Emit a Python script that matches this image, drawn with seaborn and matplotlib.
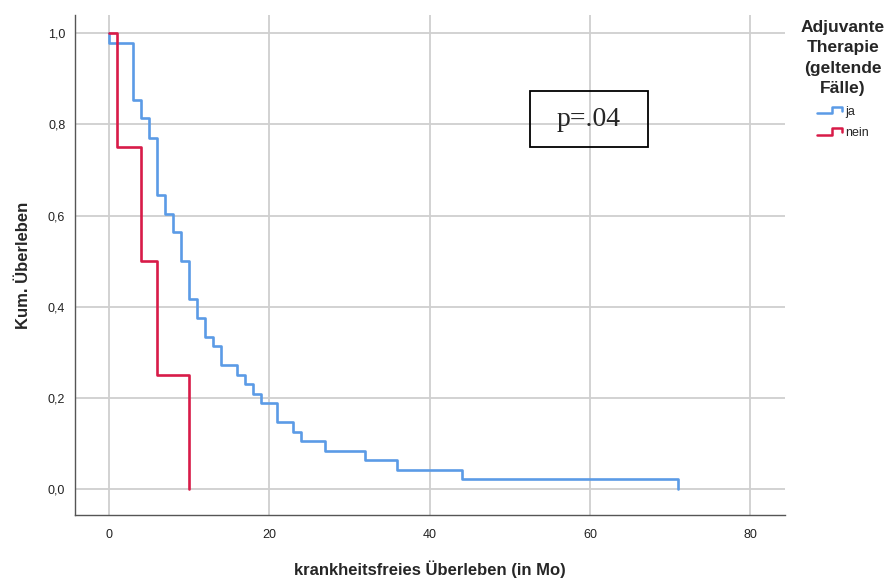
import matplotlib
matplotlib.use("Agg")
import matplotlib.pyplot as plt
import matplotlib.patches as mpatches
from matplotlib.lines import Line2D
from matplotlib.legend_handler import HandlerBase
import seaborn as sns
import pandas as pd

# Kaplan-Meier Schritte
ja_zeit = [0, 0, 3, 4, 5, 6, 7, 8, 9, 10, 11, 12, 13, 14, 16, 17, 18, 19,
           21, 23, 24, 27, 32, 36, 44, 71]
ja_surv = [1.0, 0.979, 0.854, 0.813, 0.771, 0.646, 0.604, 0.563, 0.5, 0.417,
           0.375, 0.333, 0.313, 0.271, 0.25, 0.229, 0.208, 0.188, 0.146,
           0.125, 0.104, 0.083, 0.063, 0.042, 0.021, 0.0]
nein_zeit = [0, 1, 4, 6, 10]
nein_surv = [1.0, 0.75, 0.5, 0.25, 0.0]

gruppen = ["ja", "nein"]
farben = ["#5b9be6", "#d81b48"]

x_ticks = [0, 20, 40, 60, 80]
y_ticks = [0.0, 0.2, 0.4, 0.6, 0.8, 1.0]
y_labels = ["0,0", "0,2", "0,4", "0,6", "0,8", "1,0"]

df = pd.concat([
    pd.DataFrame({"zeit": ja_zeit, "surv": ja_surv, "gruppe": "ja"}),
    pd.DataFrame({"zeit": nein_zeit, "surv": nein_surv, "gruppe": "nein"}),
], ignore_index=True)

sns.set_style("white")
plt.rcParams["font.family"] = ["Liberation Sans", "DejaVu Sans"]

fig = plt.figure(figsize=(8.93, 5.81), dpi=100)
ax = fig.add_axes([0.084, 0.114, 0.795, 0.86])

sns.lineplot(data=df, x="zeit", y="surv", hue="gruppe", hue_order=gruppen,
             palette=farben, drawstyle="steps-post", estimator=None,
             sort=False, linewidth=1.9, legend=False, ax=ax)

ax.set_xlim(-4.2, 84.3)
ax.set_ylim(-0.057, 1.04)
ax.set_xticks(x_ticks)
ax.set_yticks(y_ticks)
ax.set_yticklabels(y_labels)
ax.grid(True, color="#cfcfcf", linewidth=1.3)
ax.set_axisbelow(True)
for s in ["top", "right"]:
    ax.spines[s].set_visible(False)
for s in ["left", "bottom"]:
    ax.spines[s].set_color("#555555")
    ax.spines[s].set_linewidth(1.0)
ax.tick_params(axis="x", length=0, pad=10, labelsize=9, colors="#222222")
ax.tick_params(axis="y", length=3, color="#888888", pad=4, labelsize=9,
               colors="#222222")

ax.set_xlabel("krankheitsfreies Überleben (in Mo)", fontsize=12,
              fontweight="bold", labelpad=14)
ax.set_ylabel("Kum. Überleben", fontsize=12, fontweight="bold", labelpad=12)

# p-Wert Kasten
ax.add_patch(mpatches.Rectangle((0.641, 0.736), 0.166, 0.112,
                                transform=ax.transAxes, fill=False,
                                edgecolor="black", linewidth=1.3,
                                clip_on=False))
ax.text(0.724, 0.792, "p=.04", transform=ax.transAxes, ha="center",
        va="center", fontsize=20, family="Liberation Serif")


class StepHandler(HandlerBase):
    def create_artists(self, legend, orig_handle, xdescent, ydescent,
                       width, height, fontsize, trans):
        x0 = -xdescent
        y0 = -ydescent
        xs = [x0, x0 + 0.6 * width, x0 + 0.6 * width, x0 + width, x0 + width]
        ys = [y0 + 0.15 * height, y0 + 0.15 * height, y0 + 0.9 * height,
              y0 + 0.9 * height, y0 + 0.4 * height]
        ln = Line2D(xs, ys, color=orig_handle.get_color(), linewidth=1.8,
                    transform=trans)
        return [ln]


handles = [Line2D([], [], color=c) for c in farben]
leg = fig.legend(handles, gruppen, title="Adjuvante\nTherapie\n(geltende\nFälle)",
                 loc="upper center", bbox_to_anchor=(0.944, 0.985),
                 frameon=False, fontsize=9, handlelength=2.0,
                 handletextpad=0.3, labelspacing=0.75, alignment="center",
                 handler_map={Line2D: StepHandler()},
                 title_fontproperties={"weight": "bold", "size": 12.5})
leg.get_title().set_multialignment("center")
leg.get_title().set_linespacing(1.45)

fig.savefig("out.png", dpi=100)
